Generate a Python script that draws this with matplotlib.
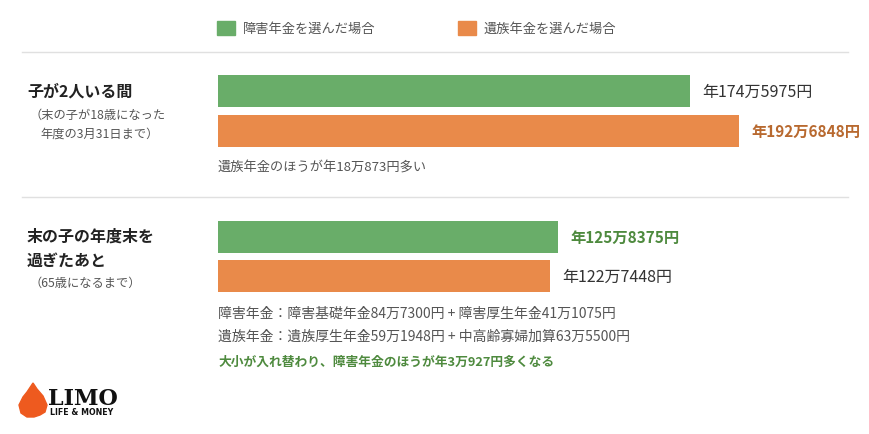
import matplotlib.pyplot as plt
from matplotlib.patches import Polygon, Rectangle

plt.rcParams['font.family'] = ['Noto Sans CJK JP', 'DejaVu Sans']

W, H = 870, 435

# データ（単位：万円）
series = ["障害年金を選んだ場合", "遺族年金を選んだ場合"]
group1_values = [174.5975, 192.6848]
group2_values = [125.8375, 122.7448]
group1_labels = ["年174万5975円", "年192万6848円"]
group2_labels = ["年125万8375円", "年122万7448円"]

GREEN = "#69ad69"
ORANGE = "#e98a4a"
GRAY = "#555555"
DARK = "#333333"


def fx(x):
    return x / W


def fy(y):
    return 1 - y / H


fig = plt.figure(figsize=(W / 100, H / 100), dpi=100)
fig.patch.set_facecolor("white")

# 棒グラフ用の軸（左端 = 0円）
scale = 2.703  # px / 万円
ax = fig.add_axes([fx(218), 0, fx(W - 218), 1])
ax.set_xlim(0, (W - 218) / scale)
ax.set_ylim(H, 0)
ax.axis("off")

colors = [GREEN, ORANGE]
ax.barh([92, 132], group1_values, height=32, color=colors)
ax.barh([238, 277], group2_values, height=32, color=colors)

off = 4.6
ax.text(group1_values[0] + off, 92, group1_labels[0], va="center", fontsize=11.5, color=DARK)
ax.text(group1_values[1] + off, 132, group1_labels[1], va="center", fontsize=11,
        color="#b8692f", fontweight="bold")
ax.text(group2_values[0] + off, 238, group2_labels[0], va="center", fontsize=11,
        color="#4e8a3e", fontweight="bold")
ax.text(group2_values[1] + off, 277, group2_labels[1], va="center", fontsize=11.5, color=DARK)

# 凡例
fig.patches.append(Rectangle((fx(217), fy(36)), 18 / W, 14 / H, color=GREEN,
                             transform=fig.transFigure, figure=fig))
fig.text(fx(243), fy(29), series[0], va="center", fontsize=9.5, color=GRAY)
fig.patches.append(Rectangle((fx(458), fy(36)), 18 / W, 14 / H, color=ORANGE,
                             transform=fig.transFigure, figure=fig))
fig.text(fx(484), fy(29), series[1], va="center", fontsize=9.5, color=GRAY)

# 区切り線
for yy in [53, 198]:
    fig.add_artist(plt.Line2D([fx(22), fx(848)], [fy(yy), fy(yy)], color="#e0e0e0", lw=1))

# 左側の見出し
fig.text(fx(27), fy(92), "子が2人いる間", va="center", fontsize=11.5, fontweight="bold", color="#222222")
fig.text(fx(30), fy(115), "（末の子が18歳になった", va="center", fontsize=8.8, color=GRAY)
fig.text(fx(40), fy(134), "年度の3月31日まで）", va="center", fontsize=8.8, color=GRAY)

fig.text(fx(27), fy(237), "末の子の年度末を", va="center", fontsize=11.5, fontweight="bold", color="#222222")
fig.text(fx(27), fy(261), "過ぎたあと", va="center", fontsize=11.5, fontweight="bold", color="#222222")
fig.text(fx(30), fy(283), "（65歳になるまで）", va="center", fontsize=8.8, color=GRAY)

# 注記
fig.text(fx(218), fy(168), "遺族年金のほうが年18万873円多い", va="center", fontsize=9.5, color=GRAY)
fig.text(fx(218), fy(314), "障害年金：障害基礎年金84万7300円 + 障害厚生年金41万1075円",
         va="center", fontsize=10, color=GRAY)
fig.text(fx(218), fy(337), "遺族年金：遺族厚生年金59万1948円 + 中高齢寡婦加算63万5500円",
         va="center", fontsize=10, color=GRAY)
fig.text(fx(218), fy(362), "大小が入れ替わり、障害年金のほうが年3万927円多くなる",
         va="center", fontsize=9.2, color="#4e8a3e", fontweight="bold")

# ロゴ
head = [(33, 384), (37, 390), (43, 397), (47, 406), (45, 413), (40, 416),
        (34, 418), (27, 418), (21, 414), (19, 406), (23, 398), (27, 393)]
fig.patches.append(Polygon([(fx(x), fy(y)) for x, y in head], closed=True, color="#ee5a1f",
                           transform=fig.transFigure, figure=fig))
fig.text(fx(48), fy(399), "LIMO", va="center", fontsize=16, fontweight="bold",
         family="DejaVu Serif", color="#111111")
fig.text(fx(50), fy(413), "LIFE & MONEY", va="center", fontsize=5.7, fontweight="bold",
         family="DejaVu Sans", color="#111111")

fig.savefig("out.png", dpi=100, facecolor="white")
